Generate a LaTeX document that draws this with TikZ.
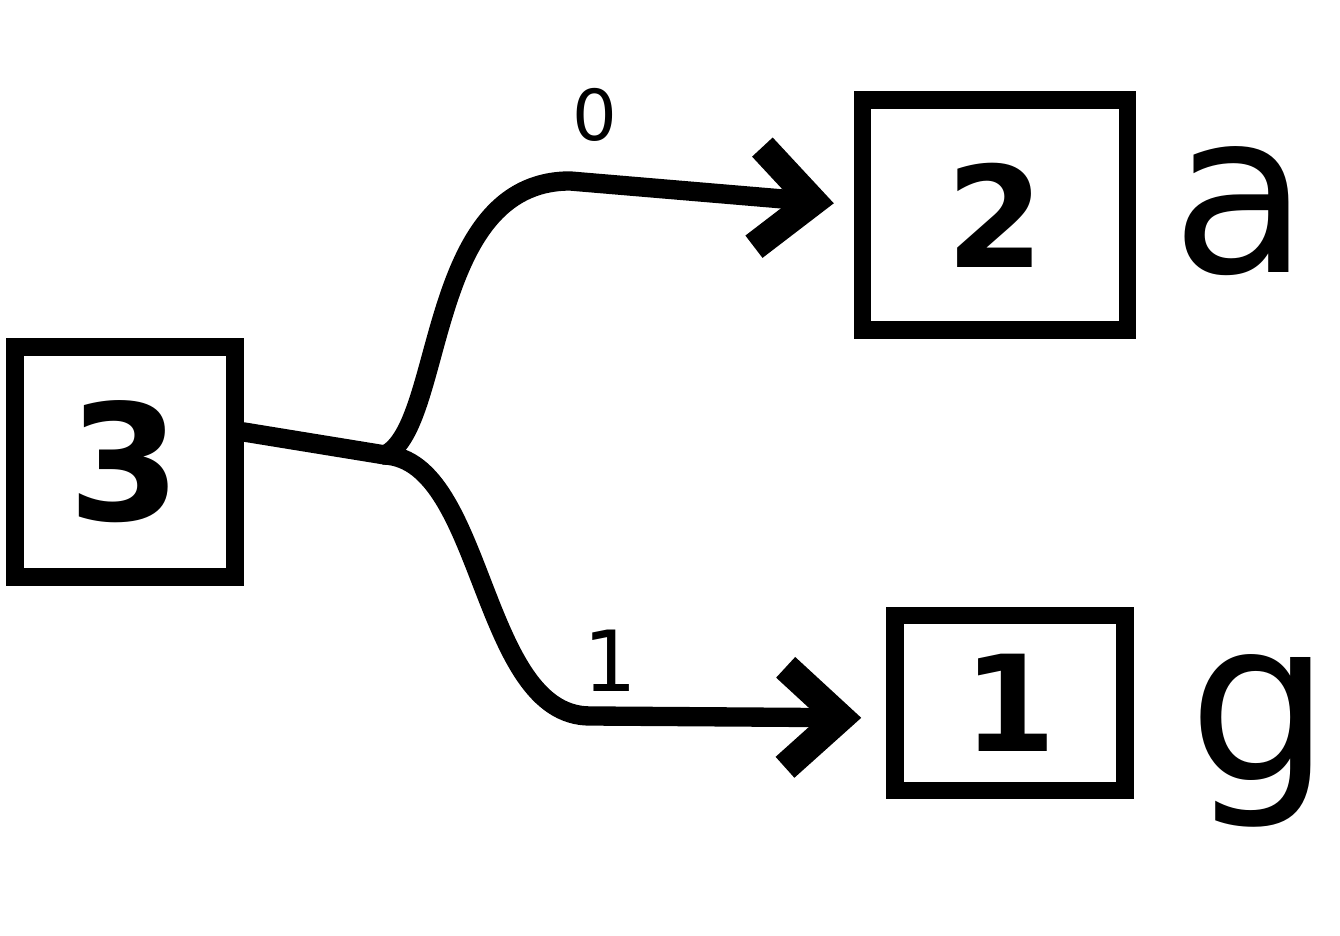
\documentclass[tikz,border=0pt]{standalone}
\usepackage{fontspec}
\setmainfont{DejaVu Sans}
\usetikzlibrary{arrows.meta}
\begin{document}
\begin{tikzpicture}[
  box/.style={draw, line width=5pt, inner sep=0pt},
  conn/.style={line width=5.5pt, line cap=round},
  arr/.style={conn, -{Straight Barb[length=5.5mm,width=10mm,line width=8pt]}},
  lbl/.style={inner sep=0pt}
]
\useasboundingbox (0,0) rectangle (13.4,9.36);
\node[box, minimum width=2.2cm, minimum height=2.3cm] (n3) at (1.25,4.74) {\fontsize{46}{50}\selectfont\bfseries 3};
\node[box, minimum width=2.65cm, minimum height=2.3cm] (n2) at (9.95,7.21) {\fontsize{40}{44}\selectfont\bfseries 2};
\node[box, minimum width=2.3cm, minimum height=1.75cm] (n1) at (10.10,2.33) {\fontsize{38}{42}\selectfont\bfseries 1};
\coordinate (br) at (3.85,4.81);
\draw[conn] ([yshift=3mm]n3.east) -- (br);
\draw[arr, shorten >=2mm] (br) .. controls (4.45,5.1) and (4.25,7.55) .. (5.7,7.55) -- ([yshift=1mm]n2.west);
\draw[arr, shorten >=2.5mm] (br) .. controls (4.85,4.75) and (4.8,2.2) .. (5.9,2.2) -- ([yshift=-1.5mm]n1.west);
\node[lbl] (l0) at (5.95,8.21) {\fontsize{20}{24}\selectfont 0};
\node[lbl] (l1) at (6.10,2.75) {\fontsize{24}{28}\selectfont 1};
\node[lbl] (la) at (12.4,7.25) {\fontsize{64}{70}\selectfont a};
\node[lbl] (lg) at (12.6,1.95) {\fontsize{64}{70}\selectfont g};
\end{tikzpicture}
\end{document}
